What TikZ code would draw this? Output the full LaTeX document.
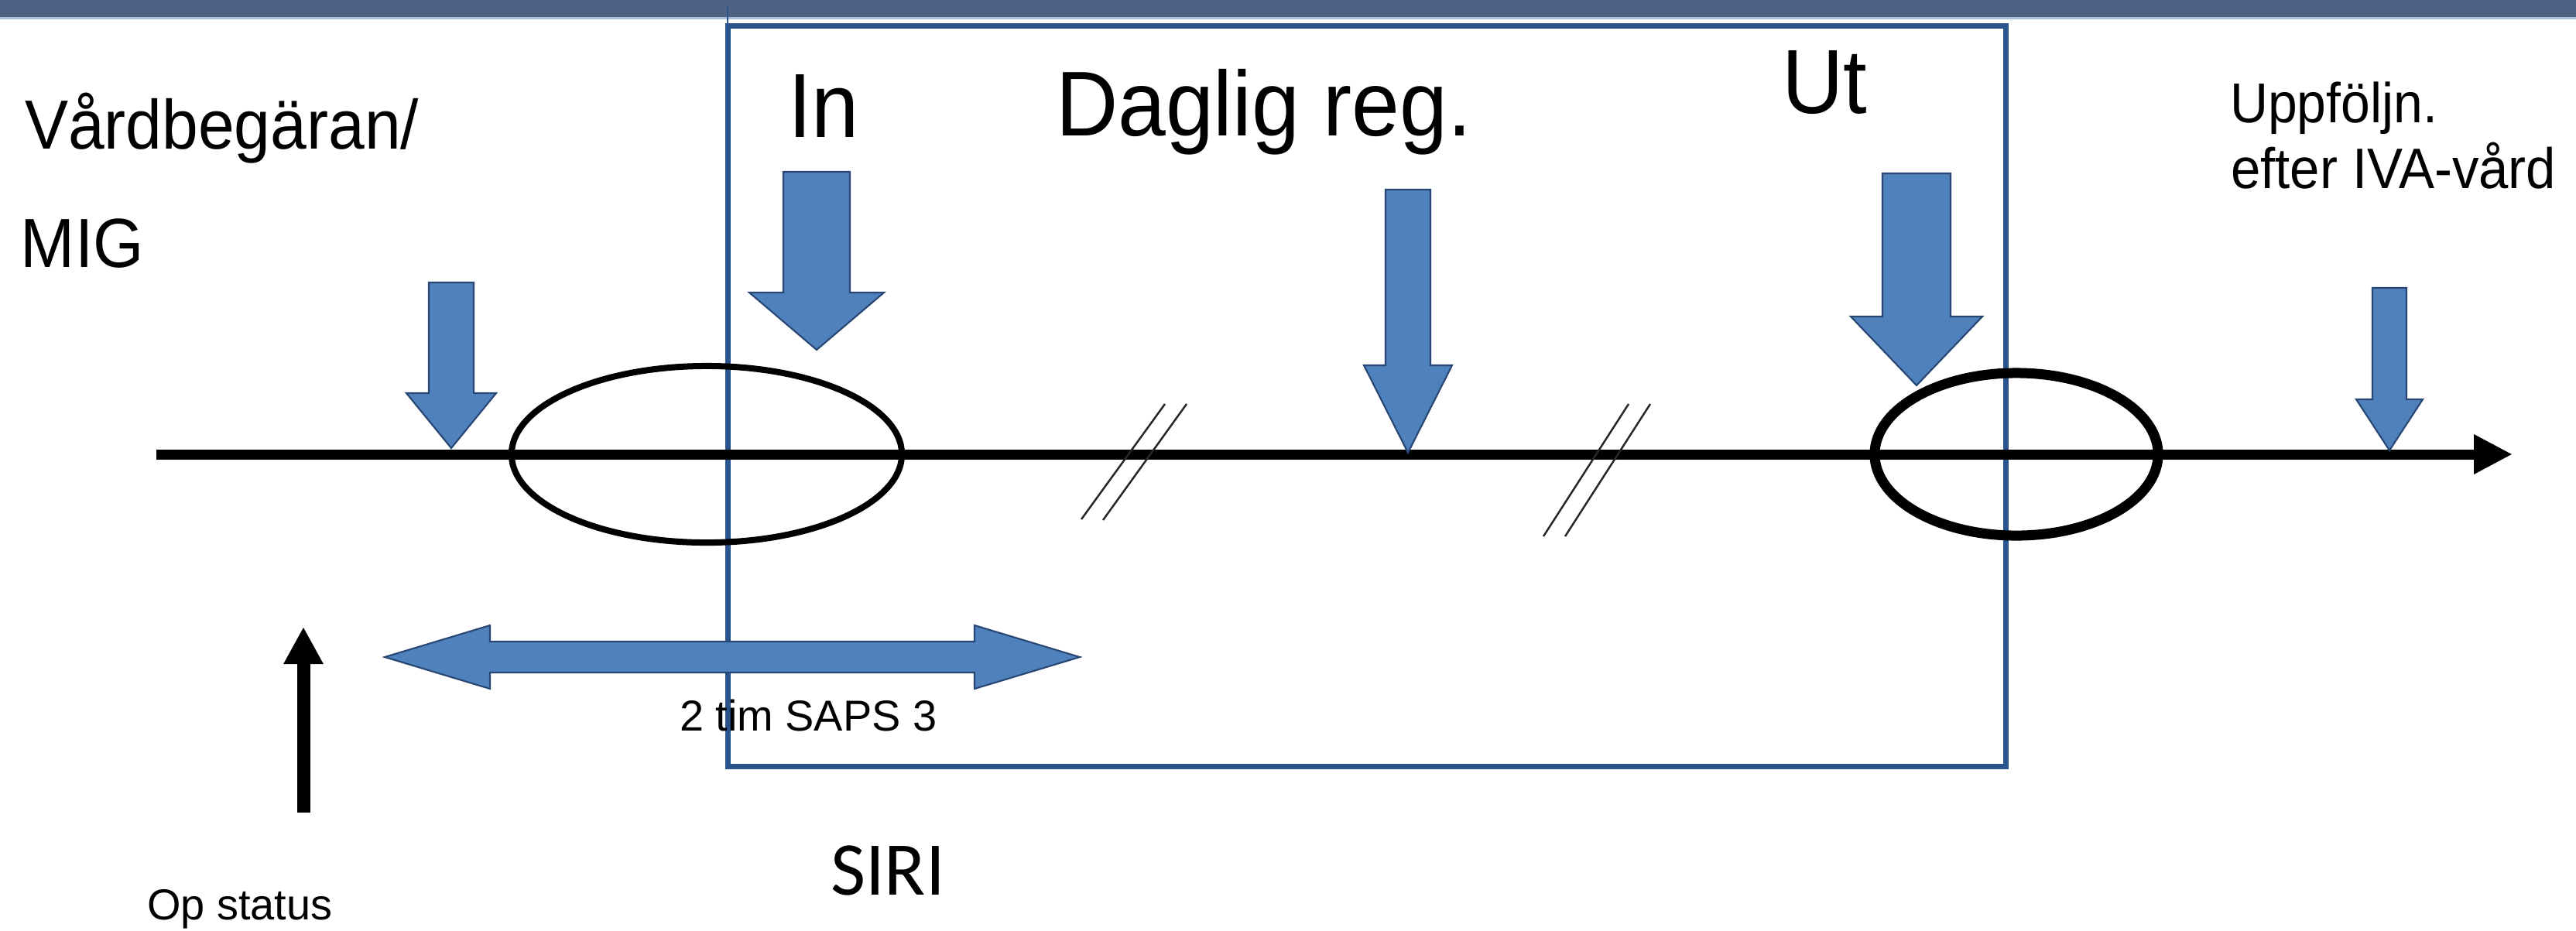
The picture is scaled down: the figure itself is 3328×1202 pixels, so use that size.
\documentclass[tikz,border=0pt]{standalone}
\usepackage{graphicx}
\usepackage{fontspec}
\setmainfont{Liberation Sans}
\newfontfamily\calib{Carlito}
\usetikzlibrary{arrows.meta,shapes.geometric}
\definecolor{barblue}{RGB}{76,99,132}
\definecolor{barlight}{RGB}{170,190,215}
\definecolor{boxblue}{RGB}{42,84,140}
\definecolor{arrfill}{RGB}{79,129,189}
\definecolor{arredge}{RGB}{40,70,115}
\newcommand{\vstretch}[1]{\scalebox{1}[1.07]{#1}}
\tikzset{
  txt/.style={anchor=base west, inner sep=0pt, outer sep=0pt, text=black},
  blockarrow/.style={fill=arrfill, draw=arredge, line width=0.6pt, line join=miter},
  ring/.style={ellipse, draw=black, fill=none, inner sep=0pt},
  hatch/.style={draw=black!85, line width=0.7pt},
}
\begin{document}
\begin{tikzpicture}[x=0.01cm,y=-0.01cm]
\fill[white] (0,0) rectangle (3328,1202);
\useasboundingbox (0,0) rectangle (3328,1202);
% top bar
\fill[barblue] (0,0) rectangle (3328,22);
\draw[barlight, line width=0.6pt] (0,23.5) -- (3328,23.5);
% SIRI box
\draw[boxblue, line width=0.7pt] (940,8) -- (940,30);
\draw[boxblue, line width=0.07cm] (940,33) rectangle (2591,990);
% timeline
\coordinate (tl0) at (202,587);
\coordinate (tl1) at (3246,587);
\draw[line width=0.13cm, -{Triangle[length=0.5cm,width=0.48cm]}] (tl0) -- (tl1);
% ellipses
\node[ring, line width=0.08cm, minimum width=5.04cm, minimum height=2.28cm] (e1) at (913,587) {};
\node[ring, line width=0.13cm, minimum width=3.66cm, minimum height=2.10cm] (e2) at (2605,587) {};
% hatch marks
\draw[hatch] (1397,671) -- (1505,522);
\draw[hatch] (1425,672) -- (1533,522);
\draw[hatch] (1994,693) -- (2104,522);
\draw[hatch] (2022,693) -- (2132,522);
% block arrows down: cx, shaft half width, top, head base, head half width, tip
\newcommand{\downarrowblk}[6]{%
  \filldraw[blockarrow] (#1-#2,#3) -- (#1+#2,#3) -- (#1+#2,#4) -- (#1+#5,#4) -- (#1,#6) -- (#1-#5,#4) -- (#1-#2,#4) -- cycle;}
\downarrowblk{583}{29}{365}{508}{58}{579}
\downarrowblk{1055}{43}{222}{378}{87}{452}
\downarrowblk{1819}{29}{245}{472}{57}{585}
\downarrowblk{2476}{44}{224}{409}{85}{498}
\downarrowblk{3087}{22}{372}{516}{43}{582}
% double arrow
\filldraw[blockarrow] (497,849) -- (633,808) -- (633,829) -- (1259,829) -- (1259,808) -- (1395,849) -- (1259,890) -- (1259,869) -- (633,869) -- (633,890) -- cycle;
% op status arrow
\coordinate (op0) at (392,1050);
\coordinate (op1) at (392,810);
\draw[line width=0.17cm, -{Triangle[length=0.48cm,width=0.48cm]}] (op0) -- (op1);
% texts
\node[txt, font=\fontsize{23.9}{28}\selectfont] (t1) at (32,192) {\vstretch{Vårdbegäran/}};
\node[txt, font=\fontsize{23.9}{28}\selectfont] (t2) at (27,345) {\vstretch{MIG}};
\node[txt, font=\fontsize{31.3}{36}\selectfont] (t3) at (1018,177) {\vstretch{In}};
\node[txt, font=\fontsize{31.6}{36}\selectfont] (t4) at (1364,175) {\vstretch{Daglig reg.}};
\node[txt, font=\fontsize{31.3}{36}\selectfont] (t5) at (2302,146) {\vstretch{Ut}};
\node[txt, font=\fontsize{19.3}{23}\selectfont] (t6) at (2881,158) {\vstretch{Uppföljn.}};
\node[txt, font=\fontsize{19.6}{23}\selectfont] (t7) at (2882,243) {\vstretch{efter IVA-vård}};
\node[txt, font=\fontsize{15.9}{19}\selectfont] (t8) at (878,944) {2 tim SAPS 3};
\node[txt, font=\fontsize{15.9}{19}\selectfont] (t9) at (190,1188) {Op status};
\node[txt, font=\calib\fontsize{27.9}{33}\selectfont] (t10) at (1073,1156) {SIRI};
\end{tikzpicture}
\end{document}
